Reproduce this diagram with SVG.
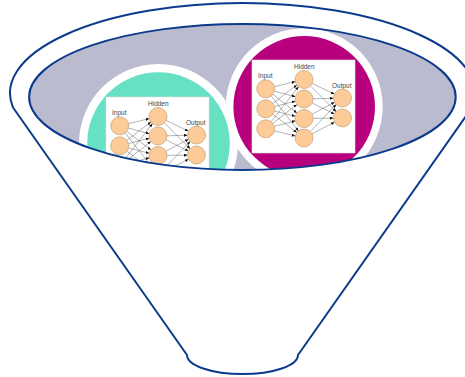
<svg xmlns="http://www.w3.org/2000/svg" xmlns:xlink="http://www.w3.org/1999/xlink" width="465" height="377" viewBox="0 0 465 377">
<style>
.rim{fill:#ffffff;stroke:#0b3a8c;stroke-width:2;stroke-linejoin:round}
.pool{fill:#babbcf}
.poolEdge{fill:none;stroke:#0b3a8c;stroke-width:2}
.ring{fill:#ffffff}
.neuron{fill:#fccb97;stroke:#b8956a;stroke-width:0.6}
.edge{stroke:#555;stroke-width:0.45;fill:none;marker-end:url(#ah)}
.lbl{font-family:"Liberation Sans",Arial,sans-serif;font-size:6.5px;fill:#444}
.panel{fill:#ffffff;stroke:#e2e2e2;stroke-width:0.6}
</style>
<defs>
<marker id="ah" markerUnits="userSpaceOnUse" markerWidth="3.5" markerHeight="3" refX="3.5" refY="1.5" orient="auto">
<path d="M0,0 L3.5,1.5 L0,3 z" fill="#111"/>
</marker>
<clipPath id="poolClip"><ellipse cx="242.4" cy="97" rx="213.3" ry="73"/></clipPath>
<g id="nn">
<rect class="panel" x="0" y="0" width="103" height="93"/>
<text class="lbl" x="6" y="18">Input</text>
<text class="lbl" x="42" y="8.5">Hidden</text>
<text class="lbl" x="80" y="28">Output</text>
<g>
<line class="edge" x1="22.45" y1="26.68" x2="43.25" y2="21.62"/>
<line class="edge" x1="22.4" y1="31.12" x2="43.3" y2="36.68"/>
<line class="edge" x1="20.81" y1="34.32" x2="44.89" y2="52.98"/>
<line class="edge" x1="19.23" y1="35.9" x2="46.47" y2="70.9"/>
<line class="edge" x1="20.85" y1="43.33" x2="44.85" y2="24.97"/>
<line class="edge" x1="22.42" y1="46.57" x2="43.28" y2="41.23"/>
<line class="edge" x1="22.42" y1="51.01" x2="43.28" y2="56.29"/>
<line class="edge" x1="20.86" y1="54.26" x2="44.84" y2="72.54"/>
<line class="edge" x1="19.22" y1="61.69" x2="46.48" y2="26.61"/>
<line class="edge" x1="20.8" y1="63.27" x2="44.9" y2="44.53"/>
<line class="edge" x1="22.39" y1="66.46" x2="43.31" y2="60.84"/>
<line class="edge" x1="22.45" y1="70.9" x2="43.25" y2="75.9"/>
<line class="edge" x1="60.11" y1="23.4" x2="82.39" y2="34.1"/>
<line class="edge" x1="58.36" y1="25.86" x2="84.14" y2="51.64"/>
<line class="edge" x1="61" y1="38.77" x2="81.5" y2="38.23"/>
<line class="edge" x1="60.07" y1="42.98" x2="82.43" y2="54.02"/>
<line class="edge" x1="59.94" y1="54.27" x2="82.56" y2="42.23"/>
<line class="edge" x1="61" y1="58.38" x2="81.5" y2="58.12"/>
<line class="edge" x1="58.24" y1="71.52" x2="84.26" y2="44.48"/>
<line class="edge" x1="59.99" y1="73.85" x2="82.51" y2="62.15"/>
</g>
<circle class="neuron" cx="13.7" cy="28.8" r="9"/>
<circle class="neuron" cx="13.7" cy="48.8" r="9"/>
<circle class="neuron" cx="13.7" cy="68.8" r="9"/>
<circle class="neuron" cx="52" cy="19.5" r="9"/>
<circle class="neuron" cx="52" cy="39" r="9"/>
<circle class="neuron" cx="52" cy="58.5" r="9"/>
<circle class="neuron" cx="52" cy="78" r="9"/>
<circle class="neuron" cx="90.5" cy="38" r="9"/>
<circle class="neuron" cx="90.5" cy="58" r="9"/>
</g>
</defs>
<g id="funnel">
<path class="rim" d="M13,107.5 A232.5,90 0 1,1 472,107.5 L298,355 A55.5,19 0 0,1 187,355 Z"/>
</g>
<g id="pool">
<ellipse class="pool" cx="242.4" cy="97" rx="213.3" ry="73"/>
</g>
<g clip-path="url(#poolClip)">
<g id="model-teal">
<circle class="ring" cx="158.5" cy="143.5" r="79.5"/>
<circle cx="158.5" cy="143.5" r="71.3" fill="#66e1c3"/>
<use xlink:href="#nn" href="#nn" transform="translate(106,97)"/>
</g>
<g id="model-magenta">
<circle class="ring" cx="304.2" cy="106.8" r="78.5"/>
<circle cx="304.2" cy="106.8" r="70.8" fill="#b8007f"/>
<use xlink:href="#nn" href="#nn" transform="translate(252,60)"/>
</g>
</g>
<g id="pool-edge">
<ellipse class="poolEdge" cx="242.4" cy="97" rx="213.3" ry="73"/>
</g>
</svg>
